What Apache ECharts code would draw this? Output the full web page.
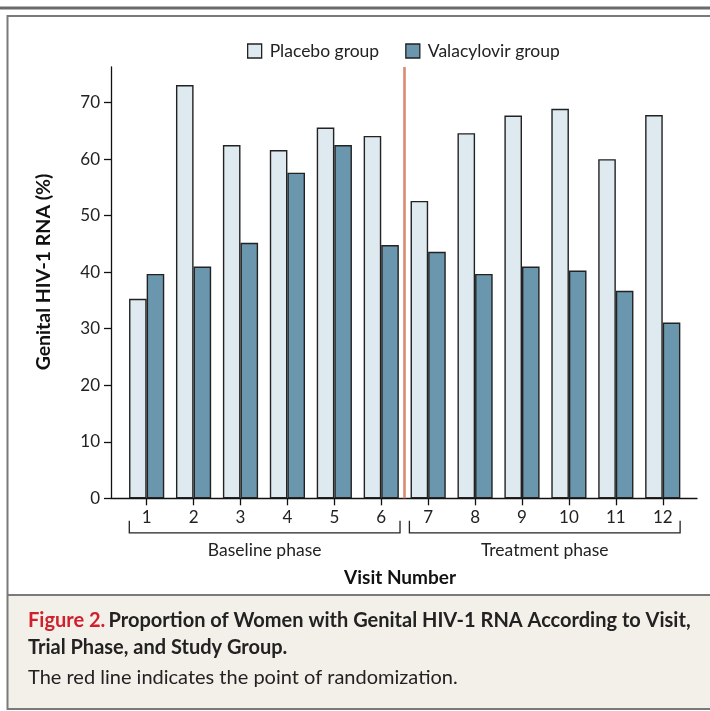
<!DOCTYPE html>
<html><head><meta charset="utf-8">
<script src="https://cdn.jsdelivr.net/npm/echarts@6/dist/echarts.min.js"></script>
<style>html,body{margin:0;padding:0;background:#fff}#c{width:710px;height:711px}</style>
</head><body><div id="c"></div>
<script>
var visits = [1,2,3,4,5,6,7,8,9,10,11,12];
var tickLabels = ['1','2','3','4','5','6','7','8','9','10','11','12'];
var placebo = [35.3,73.1,62.5,61.6,65.6,64.1,52.6,64.6,67.7,68.9,60.0,67.8];
var valacyclovir = [39.7,41.0,45.2,57.6,62.5,44.8,43.6,39.7,41.0,40.3,36.7,31.1];
var yTicks = [0,10,20,30,40,50,60,70];
var randomizationAt = 6.5;
var phases = [{name:'Baseline phase', from:0.63, to:6.4},{name:'Treatment phase', from:6.6, to:12.37}];

var FONT = 'Lato';
var chart = echarts.init(document.getElementById('c'), null, {renderer:'canvas'});
function pairs(arr){ return visits.map(function(v,i){ return [v, arr[i]]; }); }

var option = {
  animation:false,
  backgroundColor:'#fff',
  textStyle:{fontFamily:FONT},
  grid:{left:111, right:13, top:67, bottom:212.7, containLabel:false},
  legend:{
    left:247, top:42, padding:0, itemWidth:14, itemHeight:14, itemGap:26,
    icon:'rect',
    itemStyle:{borderColor:'#222', borderWidth:1.3},
    textStyle:{fontSize:17.5, color:'#222', fontFamily:FONT, padding:[0,0,0,3]},
    data:['Placebo group','Valacyclovir group'],
    selectedMode:false,
    formatter:function(n){ return n === 'Valacyclovir group' ? 'Valacylovir group' : n; }
  },
  xAxis:{
    type:'value', min:0.24, max:12.73,
    axisLine:{lineStyle:{color:'#111', width:1.3}},
    axisTick:{show:true, length:7, lineStyle:{color:'#111', width:1.3}, customValues:visits},
    axisLabel:{fontSize:17, color:'#222', margin:11, fontFamily:FONT, customValues:visits,
      formatter:function(v){ var i = visits.indexOf(v); return i>=0 ? tickLabels[i] : ''; }},
    splitLine:{show:false}
  },
  yAxis:{
    type:'value', min:0, max:76.3,
    axisLine:{show:true, lineStyle:{color:'#111', width:1.3}},
    axisTick:{show:true, length:7, lineStyle:{color:'#111', width:1.3}, customValues:yTicks},
    axisLabel:{fontSize:17, color:'#222', margin:11, fontFamily:FONT, customValues:yTicks},
    splitLine:{show:false}
  },
  series:[
    {name:'Placebo group', type:'bar', data:pairs(placebo), barWidth:17.6, barGap:'0%',
     itemStyle:{color:'#deeaef', borderColor:'#222', borderWidth:1.4}},
    {name:'Valacyclovir group', type:'bar', data:pairs(valacyclovir), barWidth:17.6, barGap:'0%',
     itemStyle:{color:'#6a97ae', borderColor:'#222', borderWidth:1.4}},
    {name:'randomization', type:'line', data:[], silent:true,
     markLine:{silent:true, symbol:'none', label:{show:false},
       lineStyle:{color:'#d98a72', width:2.6, type:'solid'}, data:[{xAxis:randomizationAt}]}}
  ]
};
chart.setOption(option);

var g = [];
g.push({type:'rect', shape:{x:0,y:6.5,width:710,height:3}, style:{fill:'#6b6b6b'}, silent:true});
g.push({type:'rect', shape:{x:7,y:595,width:710,height:114}, style:{fill:'#f3f0ea'}, silent:true, z:-1});
g.push({type:'polyline', shape:{points:[[711,16],[7.5,16],[7.5,709],[711,709]]}, style:{stroke:'#7a7a7a', lineWidth:2, fill:null}, silent:true});
g.push({type:'line', shape:{x1:7,y1:595,x2:711,y2:595}, style:{stroke:'#7a7a7a', lineWidth:2}, silent:true});

var yBase = chart.convertToPixel({yAxisIndex:0}, 0);
var brY = yBase + 34.5, brTop = yBase + 22.5;
phases.forEach(function(p){
  var x1 = chart.convertToPixel({xAxisIndex:0}, p.from);
  var x2 = chart.convertToPixel({xAxisIndex:0}, p.to);
  g.push({type:'polyline', shape:{points:[[x1,brTop],[x1,brY],[x2,brY],[x2,brTop]]}, style:{stroke:'#222', lineWidth:1.3, fill:null}, silent:true});
  g.push({type:'text', x:(x1+x2)/2, y:brY+18, style:{text:p.name, font:'17.5px '+FONT, fill:'#222', align:'center', verticalAlign:'middle'}, silent:true});
});
g.push({type:'text', x:400, y:578, style:{text:'Visit Number', font:'bold 19px '+FONT, fill:'#111', align:'center', verticalAlign:'middle'}, silent:true});
g.push({type:'text', x:44, y:272, rotation:Math.PI/2, style:{text:'Genital HIV-1 RNA (%)', font:'bold 19.5px '+FONT, fill:'#111', align:'center', verticalAlign:'middle'}, silent:true});
g.push({type:'text', x:28, y:621, style:{
  text:'{r|Figure 2.} {b|Proportion of Women with Genital HIV-1 RNA According to Visit,}',
  verticalAlign:'middle', rich:{r:{font:'bold 20px '+FONT, fill:'#d0202e'}, b:{font:'bold 20px '+FONT, fill:'#222'}}}, silent:true});
g.push({type:'text', x:28, y:648, style:{text:'Trial Phase, and Study Group.', font:'bold 20px '+FONT, fill:'#222', verticalAlign:'middle'}, silent:true});
g.push({type:'text', x:28, y:678, style:{text:'The red line indicates the point of randomization.', font:'20px '+FONT, fill:'#222', verticalAlign:'middle'}, silent:true});
chart.setOption({graphic:g});
</script></body></html>
